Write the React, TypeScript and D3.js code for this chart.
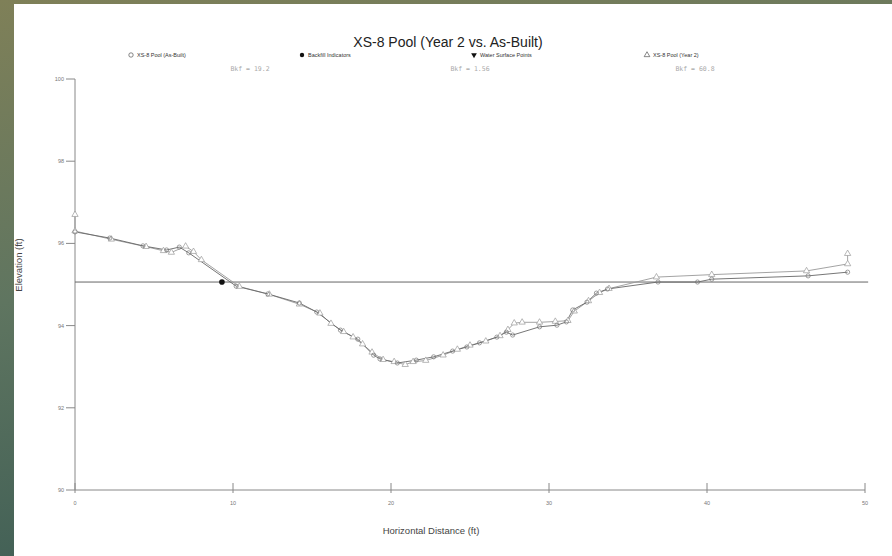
import React from 'react';
import * as d3 from 'd3';

// station (ft) and elevation (ft)
const asBuiltX = [0, 2.2, 4.3, 5.8, 6.6, 7.2, 10.2, 12.2, 14.2, 15.3, 16.8, 17.9, 18.9, 19.3, 20.4, 21.6, 22.7, 23.9, 24.8, 25.6, 26.7, 27.3, 27.7, 29.4, 30.5, 31.1, 31.5, 32.4, 33.0, 33.7, 36.9, 39.4, 40.3, 46.4, 48.9];
const asBuiltY = [96.28, 96.13, 95.94, 95.84, 95.91, 95.77, 94.96, 94.77, 94.55, 94.33, 93.89, 93.67, 93.28, 93.19, 93.09, 93.16, 93.24, 93.38, 93.48, 93.58, 93.72, 93.84, 93.77, 93.97, 94.01, 94.09, 94.38, 94.57, 94.79, 94.89, 95.06, 95.06, 95.13, 95.21, 95.3];

const year2X = [0, 0, 2.3, 4.5, 5.6, 6.1, 7.0, 7.5, 8.0, 10.4, 12.3, 14.2, 15.5, 16.2, 17.0, 17.6, 18.2, 18.8, 19.5, 20.2, 20.9, 21.4, 22.2, 23.3, 24.2, 25.0, 26.0, 26.9, 27.4, 27.8, 28.3, 29.4, 30.4, 31.2, 31.6, 32.5, 33.2, 33.8, 36.8, 40.3, 46.3, 48.9, 48.9];
const year2Y = [96.7, 96.3, 96.1, 95.92, 95.82, 95.78, 95.93, 95.8, 95.6, 94.95, 94.76, 94.52, 94.3, 94.05, 93.85, 93.72, 93.55, 93.35, 93.17, 93.12, 93.05, 93.12, 93.15, 93.28, 93.42, 93.52, 93.62, 93.75, 93.9, 94.06, 94.08, 94.08, 94.1, 94.12, 94.35, 94.6, 94.8, 94.9, 95.18, 95.24, 95.33, 95.5, 95.75];

const backfillX = [9.3];
const backfillY = [95.06];

const bankfullElev = 95.06;

const xTicks = [0, 10, 20, 30, 40, 50];
const yTicks = [90, 92, 94, 96, 98, 100];

const legendLabels = ['XS-8 Pool (As-Built)', 'Backfill Indicators', 'Water Surface Points', 'XS-8 Pool (Year 2)'];
const bkfLabels = ['Bkf = 19.2', 'Bkf = 1.56', 'Bkf = 60.8'];

const W = 892;
const H = 556;

export default function App() {
  const x = d3.scaleLinear().domain([0, 50]).range([75, 865]);
  const y = d3.scaleLinear().domain([90, 100]).range([490, 79]);

  const asBuilt = asBuiltX.map((v, i) => [v, asBuiltY[i]] as [number, number]);
  const year2 = year2X.map((v, i) => [v, year2Y[i]] as [number, number]);

  const line = d3.line<[number, number]>().x(d => x(d[0])).y(d => y(d[1]));
  const tri = d3.symbol().type(d3.symbolTriangle).size(17)()!;
  const triSmall = d3.symbol().type(d3.symbolTriangle).size(14)()!;

  const font = 'Liberation Sans, Arial, sans-serif';
  const legendX = [131, 302, 474, 647];
  const bkfX = [250, 470, 695];

  return (
    <div style={{ position: 'absolute', left: 0, top: 0 }}>
      <svg width={W} height={H} style={{ display: 'block' }}>
        <defs>
          <linearGradient id="frame" x1="0" y1="0" x2="0.3" y2="1">
            <stop offset="0" stopColor="#7f8058" />
            <stop offset="0.5" stopColor="#5f7560" />
            <stop offset="1" stopColor="#3f5e55" />
          </linearGradient>
        </defs>
        <rect x={0} y={0} width={W} height={H} fill="url(#frame)" />
        <rect x={14} y={4} width={W - 14} height={H - 4} fill="#ffffff" />

        <text x={448} y={47} textAnchor="middle" fontFamily={font} fontSize={14} fill="#222">
          XS-8 Pool (Year 2 vs. As-Built)
        </text>

        {/* legend */}
        <g fontFamily={font} fontSize={5.5} fill="#333">
          <circle cx={legendX[0]} cy={55} r={2.2} fill="#fff" stroke="#555" strokeWidth={0.7} />
          <circle cx={legendX[1]} cy={55} r={2.2} fill="#111" />
          <path d={triSmall} transform={`translate(${legendX[2]},55) rotate(180)`} fill="#111" />
          <path d={triSmall} transform={`translate(${legendX[3]},55)`} fill="#fff" stroke="#555" strokeWidth={0.7} />
          {legendLabels.map((t, i) => (
            <text key={t} x={legendX[i] + 6} y={57}>{t}</text>
          ))}
        </g>
        <g fontFamily="DejaVu Sans Mono, monospace" fontSize={6.5} fill="#aaa">
          {bkfLabels.map((t, i) => (
            <text key={t} x={bkfX[i]} y={71} textAnchor="middle">{t}</text>
          ))}
        </g>

        {/* axes */}
        <g stroke="#888" strokeWidth={1} fill="none">
          <line x1={x(0)} x2={x(0)} y1={y(100)} y2={y(90)} />
          <line x1={x(0)} x2={x(50)} y1={y(90)} y2={y(90)} />
          {yTicks.map(t => (
            <line key={t} x1={x(0) - 9} x2={x(0)} y1={y(t)} y2={y(t)} />
          ))}
          {xTicks.map(t => (
            <line key={t} x1={x(t)} x2={x(t)} y1={y(90) - 7} y2={y(90) + 3} />
          ))}
        </g>
        <g fontFamily={font} fontSize={5.5} fill="#777">
          {yTicks.map(t => (
            <text key={t} x={x(0) - 11} y={y(t) + 2} textAnchor="end">{t}</text>
          ))}
          {xTicks.map(t => (
            <text key={t} x={x(t)} y={y(90) + 15} textAnchor="middle">{t}</text>
          ))}
        </g>
        <text x={431} y={534} textAnchor="middle" fontFamily={font} fontSize={9.5} fill="#444">
          Horizontal Distance (ft)
        </text>
        <text transform={`translate(22,265) rotate(-90)`} textAnchor="middle" fontFamily={font} fontSize={9.5} fill="#444">
          Elevation (ft)
        </text>

        {/* bankfull */}
        <line x1={x(0)} x2={x(50.2)} y1={y(bankfullElev)} y2={y(bankfullElev)} stroke="#666" strokeWidth={1} />

        {/* series */}
        <path d={line(year2) || ''} fill="none" stroke="#999" strokeWidth={0.9} />
        <path d={line(asBuilt) || ''} fill="none" stroke="#666" strokeWidth={0.9} />
        {year2.map((d, i) => (
          <path key={i} d={tri} transform={`translate(${x(d[0])},${y(d[1])})`} fill="#fff" stroke="#999" strokeWidth={0.7} />
        ))}
        {asBuilt.map((d, i) => (
          <circle key={i} cx={x(d[0])} cy={y(d[1])} r={2.1} fill="none" stroke="#777" strokeWidth={0.7} />
        ))}
        {backfillX.map((v, i) => (
          <circle key={i} cx={x(v)} cy={y(backfillY[i])} r={2.8} fill="#111" />
        ))}
      </svg>
    </div>
  );
}
